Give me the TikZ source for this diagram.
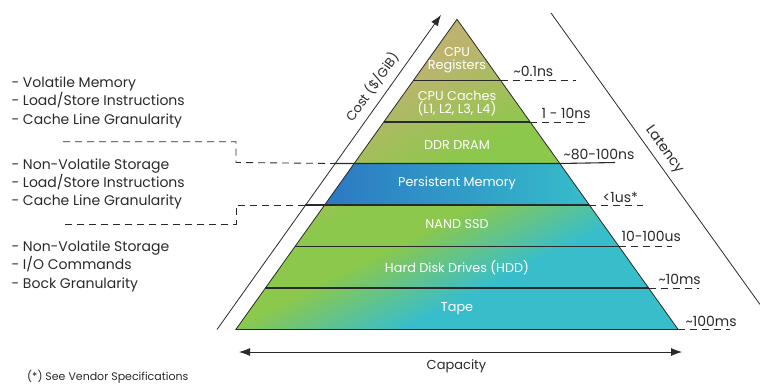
\documentclass[tikz,border=0pt]{standalone}
\usepackage{fontspec}
\setmainfont{Poppins}
\usetikzlibrary{calc,arrows.meta}
\definecolor{pyrtan}{HTML}{BCB46E}
\definecolor{pyrgreen}{HTML}{8CC84B}
\definecolor{pyrteal}{HTML}{38BECB}
\definecolor{pmblue}{HTML}{2C78C3}
\definecolor{pmcyan}{HTML}{36BDCB}
\definecolor{ink}{HTML}{2A2A2A}
\pgfdeclarehorizontalshading{pyrshade}{100bp}{color(0bp)=(pyrtan); color(39bp)=(pyrtan); color(47bp)=(pyrgreen); color(51bp)=(pyrgreen); color(57.5bp)=(pyrteal); color(100bp)=(pyrteal)}
\tikzset{
  lvl/.style={draw=ink, line width=1.1pt},
  edge/.style={draw=ink, line width=0.8pt},
  tick/.style={draw=ink, line width=0.9pt, dash pattern=on 7pt off 5pt},
  tier/.style={text=white, align=center, font=\fontsize{12.8}{13}\selectfont},
  lat/.style={anchor=base west, text=ink, font=\fontsize{14}{15}\selectfont},
  note/.style={anchor=west, align=left, text=ink, font=\fontsize{14}{18.2}\selectfont},
}
\begin{document}
\begin{tikzpicture}[x=1pt,y=-1pt]
\useasboundingbox (0,0) rectangle (760,384);
% pyramid corners and levels
\coordinate (apex) at (457,19.3);
\foreach \k in {0,...,6}{
  \pgfmathsetmacro{\yy}{80.5+41.5*\k}
  \pgfmathsetmacro{\hw}{0.713*(\yy-19.3)}
  \coordinate (l\k) at (457-\hw,\yy);
  \coordinate (r\k) at (457+\hw,\yy);
}
\begin{scope}
  \clip (apex) -- (l6) -- (r6) -- cycle;
  \shade[shading=pyrshade, transform canvas={rotate around={-63.2:(457,200)}}] (157,-100) rectangle (757,500);
\end{scope}
\shade[left color=pmblue, right color=pmcyan] (l2) -- (r2) -- (r3) -- (l3) -- cycle;
\foreach \k in {0,1,4,5}
  \draw[lvl] (l\k) -- (r\k);
\draw[lvl] ($(l2)+(-20,0)$) -- (r2) -- (615,162.5);
\draw[lvl] ($(l3)+(-20,0)$) -- (r3);
\draw[edge] (apex) -- (l6) -- (r6) -- cycle;
% latency ticks
\draw[tick] (r0) -- (576,80.5);
\draw[tick] (r1) -- (587,122);
\draw[tick] (r3) -- (643,205);
\draw[tick] (r4) -- (672,246.5);
\draw[tick] (r5) -- (699,288);
\draw[tick] (r6) -- (730,329.5);
\node[lat] (t0) at (510,76) {\textasciitilde0.1ns};
\node[lat] (t1) at (538,118) {1 - 10ns};
\node[lat] (t2) at (560,159) {\textasciitilde80-100ns};
\node[lat] (t3) at (599,202) {<1us*};
\node[lat] (t4) at (618,241) {10-100us};
\node[lat] (t5) at (655,284) {\textasciitilde10ms};
\node[lat] (t6) at (682,326.5) {\textasciitilde100ms};
% tiers
\node[tier] (reg) at (457,60) {CPU\\Registers};
\node[tier] (cache) at (457,103.3) {CPU Caches\\(L1, L2, L3, L4)};
\node[tier] (dram) at (457,145) {DDR DRAM};
\node[tier] (pmem) at (457,183.3) {Persistent Memory};
\node[tier] (nand) at (457,224) {NAND SSD};
\node[tier] (hdd) at (457,268) {Hard Disk Drives (HDD)};
\node[tier] (tape) at (457,309) {Tape};
% axes
\draw[edge, -{Latex[length=11pt,width=8pt]}] (217,329.5) -- (441,15);
\node[text=ink, rotate=54.6, font=\fontsize{13}{14}\selectfont] (cost) at (372,87) {Cost (\$/GiB)};
\draw[edge] (551,13) -- (760,304.5);
\node[text=ink, rotate=-54.4, font=\fontsize{14}{15}\selectfont] (lat) at (664,150) {Latency};
\draw[edge, {Latex[length=11pt,width=8pt]}-{Latex[length=11pt,width=8pt]}] (239,352) -- (682,352);
\node[text=ink, font=\fontsize{13}{14}\selectfont] (cap) at (456.5,366) {Capacity};
% notes on the left
\node[note] (vol) at (8,102.3) {- Volatile Memory\\- Load/Store Instructions\\- Cache Line Granularity};
\node[note] (nvm) at (8,184) {- Non-Volatile Storage\\- Load/Store Instructions\\- Cache Line Granularity};
\node[note] (blk) at (8,266.3) {- Non-Volatile Storage\\- I/O Commands\\- Bock Granularity};
\draw[tick] (63,141.7) -- (236,141.7) -- (236,162.5) -- ($(l2)+(-20,0)$);
\draw[tick] ($(l3)+(-20,0)$) -- (236,205) -- (236,224.3) -- (65,224.3);
\node[anchor=west, inner sep=1pt, text=ink, font=\fontsize{11}{12}\selectfont] (foot) at (26,377) {(*) See Vendor Specifications};
\end{tikzpicture}
\end{document}
